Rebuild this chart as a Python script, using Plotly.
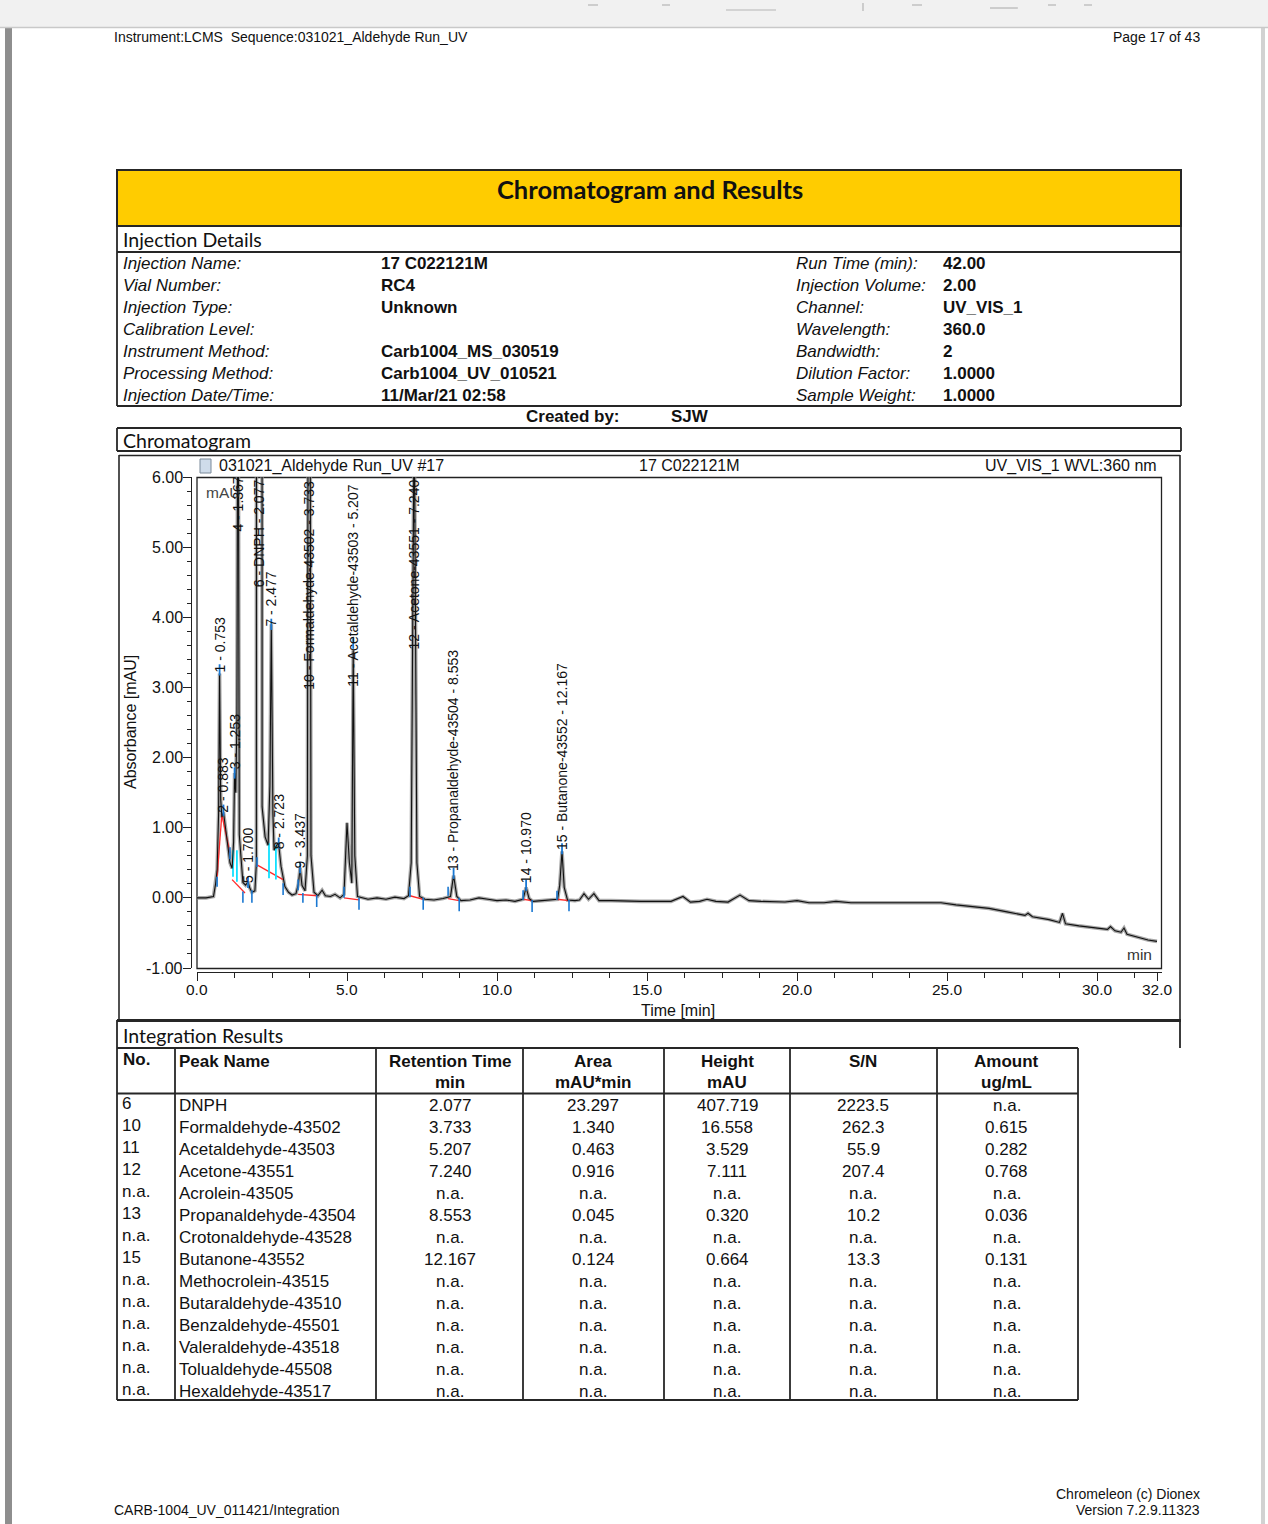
import plotly.graph_objects as go

W, H = 1268, 1524          # page size in pixels
FS = 1.0                   # font size factor

# ---------------- page texts ----------------
header_left = "Instrument:LCMS  Sequence:031021_Aldehyde Run_UV"
header_right = "Page 17 of 43"
footer_left = "CARB-1004_UV_011421/Integration"
footer_right = ["Chromeleon (c) Dionex", "Version 7.2.9.11323"]
report_title = "Chromatogram and Results"

detail_left_labels = ["Injection Name:", "Vial Number:", "Injection Type:", "Calibration Level:",
                      "Instrument Method:", "Processing Method:", "Injection Date/Time:"]
detail_left_values = ["17 C022121M", "RC4", "Unknown", "", "Carb1004_MS_030519",
                      "Carb1004_UV_010521", "11/Mar/21 02:58"]
detail_right_labels = ["Run Time (min):", "Injection Volume:", "Channel:", "Wavelength:",
                       "Bandwidth:", "Dilution Factor:", "Sample Weight:"]
detail_right_values = ["42.00", "2.00", "UV_VIS_1", "360.0", "2", "1.0000", "1.0000"]
created_by = "SJW"

chart_title_left = "031021_Aldehyde Run_UV #17"
chart_title_mid = "17 C022121M"
chart_title_right = "UV_VIS_1 WVL:360 nm"

# ---------------- chromatogram trace (time in min, absorbance in mAU) ----------------
time_min = [0.0, 0.3, 0.55, 0.62, 0.67, 0.72, 0.753, 0.79, 0.83, 0.883, 0.95, 1.03, 1.1, 1.17,
            1.22, 1.253, 1.29, 1.33, 1.367, 1.41, 1.47, 1.53, 1.62, 1.7, 1.76, 1.83, 1.93, 1.98,
            2.077, 2.17, 2.27, 2.37, 2.43, 2.477, 2.53, 2.57, 2.62, 2.7, 2.723, 2.8, 2.93, 3.05,
            3.17, 3.3, 3.38, 3.437, 3.5, 3.6, 3.68, 3.733, 3.8, 3.9, 4.03, 4.17, 4.28, 4.45,
            4.6, 4.77, 4.9, 4.95, 5.0, 5.08, 5.16, 5.207, 5.26, 5.35, 5.5, 5.7, 6.0, 6.3, 6.6,
            6.9, 7.05, 7.14, 7.24, 7.33, 7.42, 7.6, 7.9, 8.2, 8.45, 8.553, 8.66, 8.8, 9.1, 9.4,
            9.7, 10.0, 10.3, 10.6, 10.87, 10.97, 11.07, 11.2, 11.5, 11.8, 12.02, 12.09, 12.167,
            12.24, 12.35, 12.6, 12.75, 12.9, 13.05, 13.23, 13.4, 13.8, 14.3, 14.8, 15.3, 15.8,
            16.2, 16.45, 16.75, 17.0, 17.3, 17.7, 18.1, 18.4, 18.8, 19.2, 19.6, 20.0, 20.4,
            20.9, 21.3, 21.8, 22.4, 23.0, 23.6, 24.2, 24.8, 25.3, 25.7, 26.4, 27.0, 27.6, 27.7,
            27.85, 28.4, 28.75, 28.85, 28.95, 29.4, 30.0, 30.35, 30.45, 30.6, 30.8, 30.9, 31.0,
            31.4, 31.7, 32.0]
absorbance_mau = [0.0, 0.0, 0.02, 0.2, 0.4, 1.2, 3.2, 1.4, 1.15, 1.22, 1.0, 0.73, 0.5, 0.42,
                  0.8, 1.78, 1.5, 2.5, 9.0, 0.9, 0.5, 0.22, 0.18, 0.23, 0.14, 0.08, 0.1, 0.5,
                  407.719, 1.3, 0.87, 0.75, 1.6, 3.9, 1.2, 0.68, 0.72, 0.78, 0.76, 0.45, 0.16, 0.08,
                  0.04, 0.06, 0.2, 0.43, 0.18, 0.1, 0.6, 16.558, 0.6, 0.08, 0.03, 0.11, 0.03, 0.02,
                  0.05, 0.0, 0.05, 0.5, 1.07, 0.5, 0.21, 3.529, 0.6, 0.02, 0.0, -0.02, 0.0, -0.02, 0.01,
                  -0.01, 0.03, 0.5, 7.111, 0.5, 0.02, -0.02, -0.03, -0.01, 0.02, 0.32, 0.02, -0.04,
                  -0.03, 0.0, -0.02, -0.04, -0.03, -0.05, -0.02, 0.15, -0.01, -0.05, -0.04, -0.03,
                  -0.02, 0.18, 0.664, 0.15, -0.03, -0.04, -0.03, 0.06, -0.02, 0.06, -0.04, -0.04,
                  -0.05, -0.05, -0.05, -0.05, 0.02, -0.06, -0.05, -0.02, -0.05, -0.06, 0.04, -0.04,
                  -0.05, -0.05, -0.06, -0.04, -0.07, -0.07, -0.05, -0.07, -0.07, -0.07, -0.07, -0.07,
                  -0.07, -0.1, -0.12, -0.15, -0.2, -0.25, -0.22, -0.27, -0.31, -0.35, -0.22, -0.37,
                  -0.4, -0.43, -0.45, -0.41, -0.47, -0.49, -0.43, -0.52, -0.57, -0.6, -0.62]

# peak labels
peak_label_text = ["1 - 0.753", "2 - 0.883", "3 - 1.253", "4 - 1.367", "5 - 1.700", "6 - DNPH - 2.077",
                   "7 - 2.477", "8 - 2.723", "9 - 3.437", "10 - Formaldehyde-43502 - 3.733",
                   "11 - Acetaldehyde-43503 - 5.207", "12 - Acetone-43551 - 7.240",
                   "13 - Propanaldehyde-43504 - 8.553", "14 - 10.970", "15 - Butanone-43552 - 12.167"]
peak_label_time = [0.753, 0.883, 1.253, 1.367, 1.700, 2.077, 2.477, 2.723, 3.437, 3.733,
                   5.207, 7.240, 8.553, 10.970, 12.167]
peak_label_start = [3.2, 1.2, 1.82, 5.2, 0.19, 4.42, 3.85, 0.68, 0.4, 2.96, 3.0, 3.53, 0.37, 0.19, 0.66]

# apex markers (visible ones)
apex_time = [0.753, 0.883, 1.253, 1.700, 2.477, 2.723, 3.437, 5.207, 8.553, 10.970, 12.167]
apex_value = [3.25, 1.25, 1.78, 0.22, 3.9, 0.78, 0.43, 3.63, 0.35, 0.18, 0.7]

# peak delimiter ticks
delim_time = [0.67, 1.1, 1.53, 1.83, 2.0, 2.87, 3.37, 3.53, 3.99, 4.9, 5.4, 7.1, 7.54, 8.37, 8.74,
              10.87, 11.17, 12.0, 12.4]
delim_top = [0.3, 0.72, 0.09, 0.11, 0.58, 0.21, 0.26, 0.07, 0.04, 0.16, 0.0, 0.16, 0.0, 0.16, 0.0,
             0.11, -0.03, 0.1, -0.03]
delim_bottom = [0.16, 0.55, -0.07, -0.07, 0.44, 0.04, 0.11, -0.07, -0.13, 0.0, -0.17, 0.01, -0.17,
                0.03, -0.19, -0.03, -0.2, -0.03, -0.19]

# red baselines
base_t0 = [0.67, 0.83, 1.17, 2.0, 3.37, 4.9, 7.1, 8.37, 10.87, 12.0]
base_v0 = [0.3, 1.18, 0.26, 0.47, 0.05, 0.0, 0.03, -0.01, -0.02, -0.02]
base_t1 = [0.83, 1.1, 1.6, 2.87, 4.03, 5.4, 7.54, 8.74, 11.17, 12.4]
base_v1 = [1.2, 0.64, 0.07, 0.26, 0.03, -0.03, -0.02, -0.04, -0.04, -0.04]

# cyan drop lines
drop_time = [1.2, 1.33, 2.4, 2.63]
drop_low = [0.3, 0.23, 0.28, 0.26]
drop_high = [0.68, 0.68, 0.78, 0.75]

# axes ticks
x_tick_vals = [0, 5, 10, 15, 20, 25, 30, 32]
x_tick_text = ["0.0", "5.0", "10.0", "15.0", "20.0", "25.0", "30.0", "32.0"]
y_tick_vals = [-1, 0, 1, 2, 3, 4, 5, 6]
y_tick_text = ["-1.00", "0.00", "1.00", "2.00", "3.00", "4.00", "5.00", "6.00"]

# integration results table
col_headers = ["No.", "Peak Name", "Retention Time", "Area", "Height", "S/N", "Amount"]
col_units = ["", "", "min", "mAU*min", "mAU", "", "ug/mL"]
peak_no = ["6", "10", "11", "12", "n.a.", "13", "n.a.", "15", "n.a.", "n.a.", "n.a.", "n.a.", "n.a.", "n.a."]
peak_names = ["DNPH", "Formaldehyde-43502", "Acetaldehyde-43503", "Acetone-43551", "Acrolein-43505",
              "Propanaldehyde-43504", "Crotonaldehyde-43528", "Butanone-43552", "Methocrolein-43515",
              "Butaraldehyde-43510", "Benzaldehyde-45501", "Valeraldehyde-43518", "Tolualdehyde-45508",
              "Hexaldehyde-43517"]
ret_time = ["2.077", "3.733", "5.207", "7.240", "n.a.", "8.553", "n.a.", "12.167"] + ["n.a."] * 6
area = ["23.297", "1.340", "0.463", "0.916", "n.a.", "0.045", "n.a.", "0.124"] + ["n.a."] * 6
height = ["407.719", "16.558", "3.529", "7.111", "n.a.", "0.320", "n.a.", "0.664"] + ["n.a."] * 6
s_n = ["2223.5", "262.3", "55.9", "207.4", "n.a.", "10.2", "n.a.", "13.3"] + ["n.a."] * 6
amount = ["n.a.", "0.615", "0.282", "0.768", "n.a.", "0.036", "n.a.", "0.131"] + ["n.a."] * 6

# ---------------- helpers ----------------
ARIAL = "Liberation Sans, Arial, sans-serif"
CALIBRI = "Lato, Carlito, Calibri, sans-serif"
LINE = "#262626"

shapes = []
annotations = []


def px(x):
    return x / W


def py(y):
    return 1 - y / H


def hline(x0, x1, y, w=1.8, c=LINE):
    shapes.append(dict(type="line", xref="paper", yref="paper", x0=px(x0), x1=px(x1),
                       y0=py(y), y1=py(y), line=dict(color=c, width=w)))


def vline(x, y0, y1, w=1.8, c=LINE):
    shapes.append(dict(type="line", xref="paper", yref="paper", x0=px(x), x1=px(x),
                       y0=py(y0), y1=py(y1), line=dict(color=c, width=w)))


def rect(x0, y0, x1, y1, fill=None, w=1.8, c=LINE):
    shapes.append(dict(type="rect", xref="paper", yref="paper", x0=px(x0), x1=px(x1),
                       y0=py(y1), y1=py(y0), fillcolor=fill if fill else "rgba(0,0,0,0)",
                       line=dict(color=c, width=w), layer="below"))


def text(x, y, s, size=16, anchor="left", family=ARIAL, color="#111", yanchor="middle", angle=0):
    annotations.append(dict(x=px(x), y=py(y), xref="paper", yref="paper", text=s, showarrow=False,
                            xanchor=anchor, yanchor=yanchor, textangle=angle, borderpad=0,
                            font=dict(family=family, size=size * FS, color=color)))


# ---------------- page chrome ----------------
rect(0, 0, W, 27, fill="#f1f1f1", w=0)
hline(0, W, 27.5, w=1.5, c="#c9c9c9")
rect(5, 28, 12, H, fill="#8e8e8e", w=0)
rect(1261, 28, 1265, H, fill="#d2d2d2", w=0)
for x0, x1, y in [(588, 598, 5), (662, 670, 5), (726, 776, 10), (912, 922, 5), (990, 1018, 8),
                  (1048, 1056, 5), (1084, 1092, 5)]:
    hline(x0, x1, y, w=1.2, c="#b5b5b5")
vline(863, 3, 11, w=1.2, c="#b5b5b5")

text(113, 37, header_left, 14)
text(1201, 37, header_right, 14, anchor="right")
text(113, 1510, footer_left, 14)
text(1201, 1494, footer_right[0], 14, anchor="right")
text(1201, 1510, footer_right[1], 14, anchor="right")

# ---------------- report header boxes ----------------
rect(117, 170, 1181, 226, fill="#ffcc00", w=2)
text(650, 189, "<b>" + report_title + "</b>", 25.5, anchor="center", family=CALIBRI, color="#111")
vline(117, 226, 406)
vline(1181, 226, 406)
hline(117, 1181, 252)
hline(117, 1181, 406)
text(122, 240, "Injection Details", 19.5, family=CALIBRI)

for i in range(7):
    yy = 263 + 22.15 * i
    text(122, yy, "<i>" + detail_left_labels[i] + "</i>", 17)
    if detail_left_values[i]:
        text(380, yy, "<b>" + detail_left_values[i] + "</b>", 17)
    text(795, yy, "<i>" + detail_right_labels[i] + "</i>", 17)
    text(942, yy, "<b>" + detail_right_values[i] + "</b>", 17)

text(621, 417, "<b>Created by:</b>", 17, anchor="right")
text(670, 417, "<b>" + created_by + "</b>", 17)

hline(117, 1181, 428)
vline(117, 428, 451)
vline(1181, 428, 451)
hline(117, 1181, 451)
text(122, 440, "Chromatogram", 19.5, family=CALIBRI)

# chart frame
vline(119, 455, 1020, w=1.6)
vline(1180, 455, 1020, w=1.6)
hline(119, 1180, 455.5, w=1.6)
hline(117, 1181, 1020.5, w=3)

# chart title row
rect(200, 459, 211, 473, fill="#cfdcea", w=1, c="#7a8a9a")
text(218, 466, chart_title_left, 16)
text(690, 466, chart_title_mid, 16, anchor="center")
text(1158, 466, chart_title_right, 16, anchor="right")

# plot frame
rect(197, 477.5, 1161.5, 968.5, w=1.3, c="#222")
text(205, 492, "mAU", 15.5, color="#444")
text(1153, 955, "min", 15.5, anchor="right", color="#333")
text(130, 722, "Absorbance [mAU]", 16, anchor="center", angle=-90)
text(678, 1010, "Time [min]", 16, anchor="center")

# ---------------- integration results ----------------
vline(117, 1020, 1400)
vline(1180, 1020, 1048)
text(122, 1035, "Integration Results", 19.5, family=CALIBRI)
hline(117, 1078, 1048)
hline(117, 1078, 1093.5)
hline(117, 1078, 1400)
for xc in [175, 376, 523, 664, 790, 937, 1078]:
    vline(xc, 1048, 1400)

col_centers = [None, None, 450, 593, 727, 863, 1007]
text(122, 1059, "<b>" + col_headers[0] + "</b>", 17)
text(178, 1061, "<b>" + col_headers[1] + "</b>", 17)
for j in range(2, 7):
    text(col_centers[j], 1061, "<b>" + col_headers[j] + "</b>", 17, anchor="center")
    if col_units[j]:
        text(col_centers[j], 1082, "<b>" + col_units[j] + "</b>", 17, anchor="center")

for i in range(len(peak_names)):
    yy = 1105 + 22.0 * i
    text(121, yy - 2, peak_no[i], 17)
    text(178, yy, peak_names[i], 17)
    for j, col in zip(range(2, 7), [ret_time, area, height, s_n, amount]):
        text(col_centers[j], yy, col[i], 17, anchor="center")

# ---------------- chromatogram traces ----------------
fig = go.Figure()

fig.add_trace(go.Scatter(x=time_min, y=absorbance_mau, mode="lines",
                         line=dict(color="rgba(140,140,140,0.75)", width=3.6), hoverinfo="skip"))

bx, by = [], []
for t0, v0, t1, v1 in zip(base_t0, base_v0, base_t1, base_v1):
    bx += [t0, t1, None]
    by += [v0, v1, None]
fig.add_trace(go.Scatter(x=bx, y=by, mode="lines", line=dict(color="#ff2a2a", width=1.3),
                         hoverinfo="skip"))

cx, cyv = [], []
for t, lo, hi in zip(drop_time, drop_low, drop_high):
    cx += [t, t, None]
    cyv += [lo, hi, None]
fig.add_trace(go.Scatter(x=cx, y=cyv, mode="lines", line=dict(color="#10e0ff", width=1.8),
                         hoverinfo="skip"))

fig.add_trace(go.Scatter(x=time_min, y=absorbance_mau, mode="lines",
                         line=dict(color="#111111", width=1.1), hoverinfo="skip"))

dx, dy = [], []
for t, top, bot in zip(delim_time, delim_top, delim_bottom):
    dx += [t, t, None]
    dy += [top, bot, None]
fig.add_trace(go.Scatter(x=dx, y=dy, mode="lines", line=dict(color="#1a78d2", width=1.6),
                         hoverinfo="skip"))

fig.add_trace(go.Scatter(x=apex_time, y=apex_value, mode="markers",
                         marker=dict(symbol="line-ns", size=8, line=dict(color="#1a78d2", width=1.8)),
                         hoverinfo="skip"))

for s, t, v in zip(peak_label_text, peak_label_time, peak_label_start):
    annotations.append(dict(x=t, y=v, xref="x", yref="y", text=s, showarrow=False, textangle=-90,
                            xanchor="center", yanchor="bottom", borderpad=0,
                            font=dict(family=ARIAL, size=14 * FS, color="#111")))

# tick labels placed through the axis scales
for v, s in zip(x_tick_vals, x_tick_text):
    annotations.append(dict(x=v, y=py(989), xref="x", yref="paper", text=s, showarrow=False,
                            xanchor="center", yanchor="middle", borderpad=0,
                            font=dict(family=ARIAL, size=15.5 * FS, color="#111")))
for v, s in zip(y_tick_vals, y_tick_text):
    annotations.append(dict(x=px(184), y=v, xref="paper", yref="y", text=s, showarrow=False,
                            xanchor="right", yanchor="middle", borderpad=0,
                            font=dict(family=ARIAL, size=16 * FS, color="#111")))

fig.update_layout(
    width=W, height=H, margin=dict(l=0, r=0, t=0, b=0), autosize=False,
    paper_bgcolor="white", plot_bgcolor="white", showlegend=False,
    shapes=shapes, annotations=annotations,
    xaxis=dict(domain=[px(197), px(1161.5)], range=[0, 32.15], anchor="free", position=py(972),
               showline=True, linecolor="#222", linewidth=1.2, ticks="outside", ticklen=8,
               tickcolor="#222", tickwidth=1, tickmode="array", tickvals=x_tick_vals,
               showticklabels=False,
               minor=dict(tickmode="linear", tick0=0, dtick=1.25, ticklen=5, ticks="outside",
                          tickcolor="#222", showgrid=False),
               showgrid=False, zeroline=False, fixedrange=True),
    yaxis=dict(domain=[py(968), py(477)], range=[-1, 6], anchor="free", position=px(191),
               showline=True, linecolor="#222", linewidth=1.2, ticks="outside", ticklen=8,
               tickcolor="#222", tickwidth=1, tickmode="array", tickvals=y_tick_vals,
               showticklabels=False,
               minor=dict(tickmode="linear", tick0=0, dtick=0.2, ticklen=4, ticks="outside",
                          tickcolor="#222", showgrid=False),
               showgrid=False, zeroline=False, fixedrange=True),
)

fig.write_html("out.html", include_plotlyjs=True, config={"displayModeBar": False},
               post_script="document.body.style.margin='0';document.body.style.overflow='hidden';")
